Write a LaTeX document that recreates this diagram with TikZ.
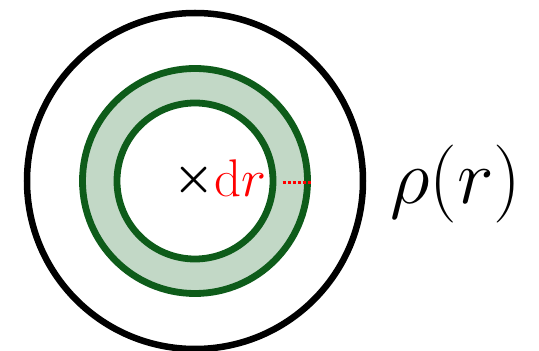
\RequirePackage{fix-cm}
\documentclass[tikz,border=0pt]{standalone}
\usepackage{amsmath}
\usetikzlibrary{calc}
\definecolor{ringgreen}{RGB}{14,92,26}
\definecolor{ringfill}{RGB}{194,216,198}
\tikzset{
  ring/.style={draw=ringgreen, line width=6.8pt},
  outerring/.style={draw=black, line width=6.5pt},
  gap/.style={draw=red, line width=3pt, dash pattern=on 3pt off 2pt},
}
\begin{document}
\begin{tikzpicture}[x=1pt,y=1pt]
\useasboundingbox (0,0) rectangle (539,351);
\coordinate (c) at (195,170);
\coordinate (xc) at (194,171);
\fill[ringfill, even odd rule] (c) circle (112.5) (c) circle (78);
\draw[ring] (c) circle (112.5);
\draw[ring] (c) circle (78);
\draw[outerring] (c) circle (168);
\node[inner sep=0pt] (x) at (xc) {\fontsize{46}{46}\selectfont$\boldsymbol{\times}$};
\node[inner sep=0pt, anchor=base west] (dr) at (214,154) {\fontsize{53}{53}\selectfont\color{red}$\mathrm{d}r$};
\coordinate (g1) at ($(c)+(87.5,-2)$);
\coordinate (g2) at ($(c)+(116,-2)$);
\draw[gap] (g1) -- (g2);
\node[inner sep=0pt, anchor=base] (rho) at (456,147.5) {\fontsize{78}{78}\selectfont$\rho(r)$};
\end{tikzpicture}
\end{document}
